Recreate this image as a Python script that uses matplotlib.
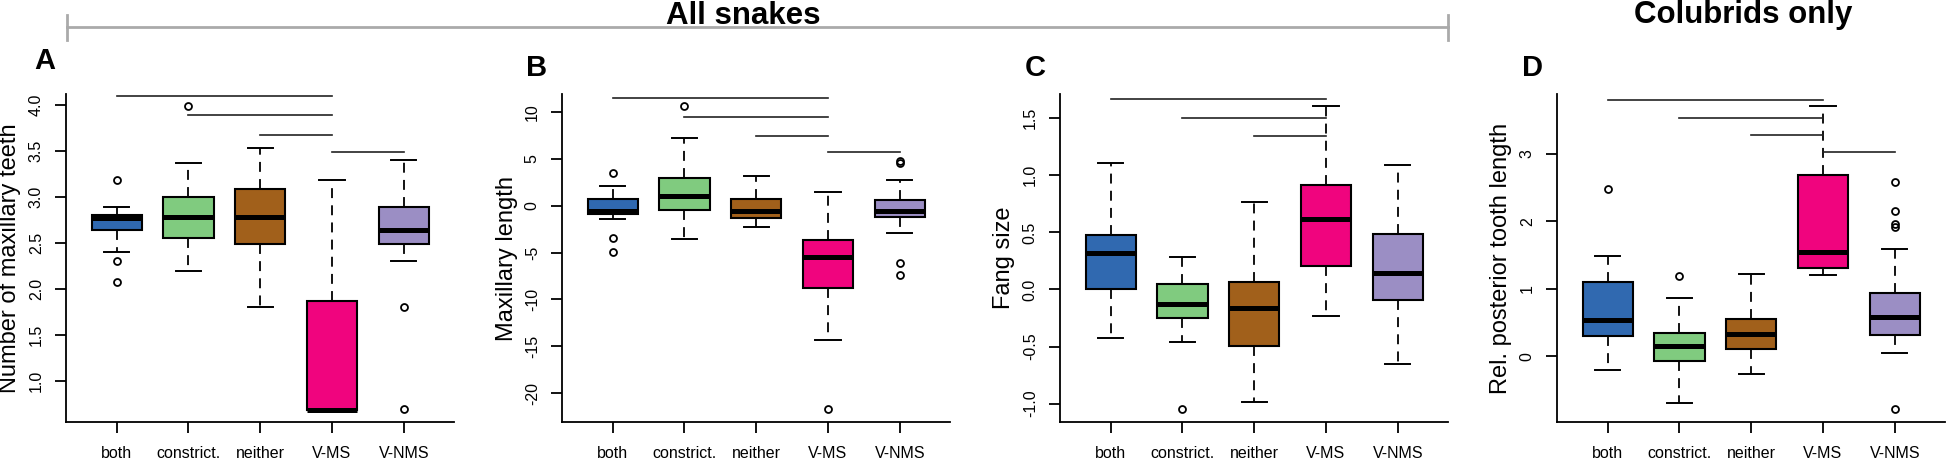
import matplotlib
matplotlib.use("Agg")
import matplotlib.pyplot as plt
from matplotlib.lines import Line2D

plt.rcParams['font.family'] = ['Liberation Sans', 'DejaVu Sans']
plt.rcParams['axes.unicode_minus'] = False

groups = ['both', 'constrict.', 'neither', 'V-MS', 'V-NMS']
colors = ['#3069b0', '#80cb7f', '#a1601b', '#f0047e', '#9b8ec4']

# A: number of maxillary teeth
a_q1 = [2.64, 2.56, 2.49, 0.69, 2.49]
a_med = [2.77, 2.78, 2.78, 0.69, 2.64]
a_q3 = [2.80, 3.00, 3.09, 1.87, 2.89]
a_lo = [2.40, 2.20, 1.80, 0.69, 2.31]
a_hi = [2.89, 3.37, 3.53, 3.18, 3.40]
a_fliers = [[3.18, 2.31, 2.08], [3.99], [], [], [1.80, 0.70]]
a_sig = [(1, 4, 4.095), (2, 4, 3.89), (3, 4, 3.67), (4, 5, 3.49)]

# B: maxillary length
b_q1 = [-0.90, -0.51, -1.32, -8.81, -1.25]
b_med = [-0.58, 0.98, -0.54, -5.48, -0.58]
b_q3 = [0.66, 2.94, 0.66, -3.67, 0.59]
b_lo = [-1.43, -3.52, -2.25, -14.32, -2.89]
b_hi = [2.08, 7.23, 3.18, 1.41, 2.69]
b_fliers = [[3.50, -3.45, -4.91], [10.6], [], [-21.66], [4.71, 4.57, -6.12, -7.43]]
b_sig = [(1, 4, 11.42), (2, 4, 9.43), (3, 4, 7.41), (4, 5, 5.67)]

# C: fang size
c_q1 = [0.003, -0.254, -0.497, 0.208, -0.088]
c_med = [0.322, -0.123, -0.161, 0.620, 0.146]
c_q3 = [0.477, 0.044, 0.064, 0.915, 0.482]
c_lo = [-0.424, -0.456, -0.988, -0.231, -0.652]
c_hi = [1.108, 0.281, 0.769, 1.608, 1.091]
c_fliers = [[], [-1.05], [], [], []]
c_sig = [(1, 4, 1.667), (2, 4, 1.506), (3, 4, 1.342)]

# D: relative posterior tooth length (colubrids)
d_q1 = [0.302, -0.069, 0.104, 1.312, 0.322]
d_med = [0.535, 0.158, 0.332, 1.540, 0.589]
d_q3 = [1.104, 0.351, 0.550, 2.693, 0.936]
d_lo = [-0.198, -0.698, -0.257, 1.203, 0.050]
d_hi = [1.49, 0.866, 1.218, 3.713, 1.594]
d_fliers = [[2.485], [1.193], [], [], [2.579, 2.158, 1.96, 1.92, -0.787]]
d_sig = [(1, 4, 3.807), (2, 4, 3.53), (3, 4, 3.277), (4, 5, 3.025)]

panels = [
    dict(letter='A', ylabel='Number of maxillary teeth', q1=a_q1, med=a_med, q3=a_q3,
         lo=a_lo, hi=a_hi, fliers=a_fliers, sig=a_sig, ylim=(0.555, 4.12),
         yticks=[1.0, 1.5, 2.0, 2.5, 3.0, 3.5, 4.0], fmt='%.1f',
         left=66, ylab_x=10, let_xy=(45, 61)),
    dict(letter='B', ylabel='Maxillary length', q1=b_q1, med=b_med, q3=b_q3,
         lo=b_lo, hi=b_hi, fliers=b_fliers, sig=b_sig, ylim=(-23.05, 11.88),
         yticks=[-20, -15, -10, -5, 0, 5, 10], fmt='%d',
         left=562, ylab_x=507, let_xy=(537, 68)),
    dict(letter='C', ylabel='Fang size', q1=c_q1, med=c_med, q3=c_q3,
         lo=c_lo, hi=c_hi, fliers=c_fliers, sig=c_sig, ylim=(-1.161, 1.713),
         yticks=[-1.0, -0.5, 0.0, 0.5, 1.0, 1.5], fmt='%.1f',
         left=1060, ylab_x=1004, let_xy=(1035, 68)),
    dict(letter='D', ylabel='Rel. posterior tooth length', q1=d_q1, med=d_med, q3=d_q3,
         lo=d_lo, hi=d_hi, fliers=d_fliers, sig=d_sig, ylim=(-0.975, 3.891),
         yticks=[0, 1, 2, 3], fmt='%d',
         left=1557, ylab_x=1501, let_xy=(1532, 68)),
]

W, H = 1946, 461
fig = plt.figure(figsize=(W / 100, H / 100), dpi=100)

ax_top, ax_bot, ax_w = 94, 422, 388

for p in panels:
    ax = fig.add_axes([p['left'] / W, 1 - ax_bot / H, ax_w / W, (ax_bot - ax_top) / H])
    stats = []
    for i in range(5):
        stats.append(dict(med=p['med'][i], q1=p['q1'][i], q3=p['q3'][i],
                          whislo=p['lo'][i], whishi=p['hi'][i],
                          fliers=p['fliers'][i], label=groups[i]))
    bp = ax.bxp(stats, positions=range(1, 6), widths=0.7, patch_artist=True,
                boxprops=dict(linewidth=1.5, edgecolor='black'),
                medianprops=dict(color='black', linewidth=3.6, solid_capstyle='butt'),
                whiskerprops=dict(color='black', linewidth=1.3, linestyle=(0, (5.5, 4))),
                capprops=dict(color='black', linewidth=1.4),
                flierprops=dict(marker='o', markersize=5, markerfacecolor='none',
                                markeredgecolor='black', markeredgewidth=1.3))
    for box, c in zip(bp['boxes'], colors):
        box.set_facecolor(c)

    for x0, x1, y in p['sig']:
        ax.plot([x0, x1], [y, y], color='#222222', linewidth=1.2, clip_on=False)

    ax.set_xlim(0.294, 5.70)
    ax.set_ylim(*p['ylim'])
    ax.set_yticks(p['yticks'])
    ax.set_yticklabels([p['fmt'] % v for v in p['yticks']], rotation=90, va='center')
    ax.set_xticks(range(1, 6))
    ax.set_xticklabels(groups)
    for s in ['top', 'right']:
        ax.spines[s].set_visible(False)
    for s in ['left', 'bottom']:
        ax.spines[s].set_linewidth(1.3)
    ax.tick_params(axis='both', direction='out', length=8, width=1.3, labelsize=11.5)
    ax.tick_params(axis='x', pad=9)
    ax.tick_params(axis='y', pad=8)

    fig.text(p['ylab_x'] / W, 1 - 258 / H, p['ylabel'], rotation=90,
             ha='center', va='center', fontsize=17)
    fig.text(p['let_xy'][0] / W, 1 - p['let_xy'][1] / H, p['letter'],
             ha='center', va='center', fontsize=21, fontweight='bold')

# group headers
fig.text(743 / W, 1 - 23.5 / H, 'All snakes', ha='center', va='baseline',
         fontsize=22.5, fontweight='bold')
fig.text(1743 / W, 1 - 23.5 / H, 'Colubrids only', ha='center', va='baseline',
         fontsize=22.5, fontweight='bold')

# bracket over the "All snakes" panels
br_y = 1 - 27 / H
fig.add_artist(Line2D([67 / W, 1448 / W], [br_y, br_y], color='#aaaaaa', linewidth=2))
for bx in (67, 1448):
    fig.add_artist(Line2D([bx / W, bx / W], [1 - 15 / H, 1 - 40 / H],
                          color='#aaaaaa', linewidth=2))

fig.savefig('out.png', dpi=100)
